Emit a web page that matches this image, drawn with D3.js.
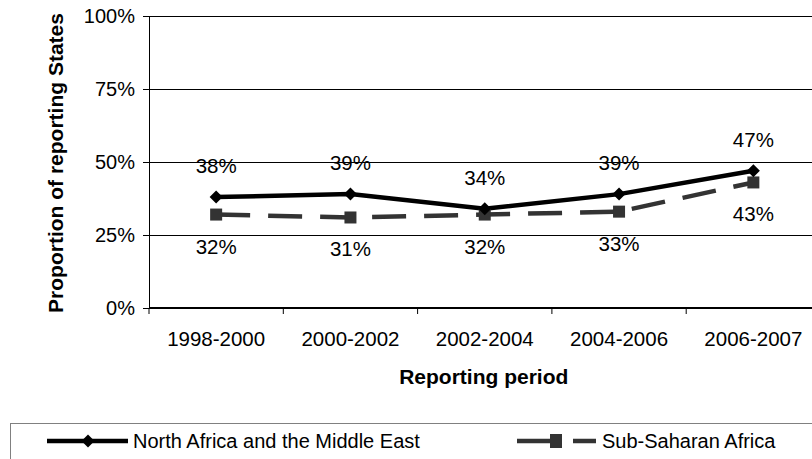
<!DOCTYPE html>
<html>
<head>
<meta charset="utf-8">
<script src="https://cdn.jsdelivr.net/npm/d3@7"></script>
<style>
  body { margin: 0; background: #fff; }
  svg { display: block; font-family: "Liberation Sans", Arial, sans-serif; }
</style>
</head>
<body>
<svg id="chart" width="812" height="459"></svg>
<script>
const categories = ["1998-2000", "2000-2002", "2002-2004", "2004-2006", "2006-2007"];
const northAfricaME = [38, 39, 34, 39, 47];
const subSaharan = [32, 31, 32, 33, 43];
const yTicks = [0, 25, 50, 75, 100];
const seriesNames = ["North Africa and the Middle East", "Sub-Saharan Africa"];

(function () {
const svg = d3.select("#chart");
const pLeft = 149, pRight = 820.5, pTop = 16, pBottom = 308;

const x = d3.scaleBand().domain(categories).range([pLeft, pRight]).padding(0);
const y = d3.scaleLinear().domain([0, 100]).range([pBottom, pTop]);
const cx = d => x(d) + x.bandwidth() / 2;

// gridlines
svg.append("g").selectAll("line").data(yTicks.filter(t => t > 0)).join("line")
  .attr("x1", pLeft).attr("x2", 812)
  .attr("y1", d => y(d)).attr("y2", d => y(d))
  .attr("stroke", "#000").attr("stroke-width", 1).attr("shape-rendering", "crispEdges");

// y axis
const yAxis = svg.append("g").attr("transform", `translate(${pLeft},0)`)
  .call(d3.axisLeft(y).tickValues(yTicks).tickFormat(d => d + "%").tickSize(6).tickPadding(8));
yAxis.select(".domain").attr("stroke", "#000").attr("d", `M0.5,${pTop}V${pBottom}`);
yAxis.selectAll("line").attr("stroke", "#000");
yAxis.selectAll("text").attr("font-size", "20px").attr("fill", "#000")
  .attr("font-family", "Liberation Sans, Arial, sans-serif");

// x axis
const xAxis = svg.append("g").attr("transform", `translate(0,${pBottom})`)
  .call(d3.axisBottom(x).tickSize(0).tickPadding(0));
xAxis.select(".domain").remove();
xAxis.selectAll("text").attr("font-size", "20.5px").attr("fill", "#000")
  .attr("font-family", "Liberation Sans, Arial, sans-serif")
  .attr("dy", null).attr("y", 38);
svg.append("line").attr("x1", pLeft).attr("x2", 812).attr("y1", pBottom).attr("y2", pBottom)
  .attr("stroke", "#000").attr("stroke-width", 2);
const xTickPos = d3.range(categories.length + 1).map(i => pLeft + i * x.step());
svg.append("g").selectAll("line").data(xTickPos.filter(p => p <= 812)).join("line")
  .attr("x1", d => d).attr("x2", d => d).attr("y1", pBottom).attr("y2", pBottom + 6)
  .attr("stroke", "#000").attr("stroke-width", 1);

// axis titles
svg.append("text").attr("x", (pLeft + pRight) / 2 - 1).attr("y", 384)
  .attr("text-anchor", "middle").attr("font-weight", "bold").attr("font-size", "21px")
  .text("Reporting period");
svg.append("text").attr("transform", "translate(63,163) rotate(-90)")
  .attr("text-anchor", "middle").attr("font-weight", "bold").attr("font-size", "21px")
  .text("Proportion of reporting States");

// lines
const line = d3.line().x((d, i) => cx(categories[i])).y(d => y(d));
svg.append("path").datum(subSaharan).attr("d", line)
  .attr("fill", "none").attr("stroke", "#333").attr("stroke-width", 4.5)
  .attr("stroke-dasharray", "34,18");
svg.append("path").datum(northAfricaME).attr("d", line)
  .attr("fill", "none").attr("stroke", "#000").attr("stroke-width", 4.5);

// markers
const diamond = (s) => `M0,${-s}L${s},0L0,${s}L${-s},0Z`;
svg.append("g").selectAll("rect").data(subSaharan).join("rect")
  .attr("x", (d, i) => cx(categories[i]) - 6).attr("y", d => y(d) - 6)
  .attr("width", 12).attr("height", 12).attr("fill", "#333");
svg.append("g").selectAll("path").data(northAfricaME).join("path")
  .attr("transform", (d, i) => `translate(${cx(categories[i])},${y(d)})`)
  .attr("d", diamond(6.5)).attr("fill", "#000");

// data labels
svg.append("g").selectAll("text").data(northAfricaME).join("text")
  .attr("x", (d, i) => cx(categories[i])).attr("y", d => y(d) - 24)
  .attr("text-anchor", "middle").attr("font-size", "20.5px").text(d => d + "%");
svg.append("g").selectAll("text").data(subSaharan).join("text")
  .attr("x", (d, i) => cx(categories[i])).attr("y", d => y(d) + 39)
  .attr("text-anchor", "middle").attr("font-size", "20.5px").text(d => d + "%");

// legend
svg.append("rect").attr("x", 10.5).attr("y", 423.5).attr("width", 820).attr("height", 60)
  .attr("fill", "none").attr("stroke", "#808080").attr("stroke-width", 1);
const lg = svg.append("g");
lg.append("line").attr("x1", 47).attr("x2", 128).attr("y1", 441).attr("y2", 441)
  .attr("stroke", "#000").attr("stroke-width", 4.5);
lg.append("path").attr("transform", "translate(88,441)").attr("d", diamond(6.5)).attr("fill", "#000");
lg.append("text").attr("x", 133).attr("y", 448).attr("font-size", "20px").text(seriesNames[0]);
lg.append("line").attr("x1", 517).attr("x2", 596).attr("y1", 441).attr("y2", 441)
  .attr("stroke", "#333").attr("stroke-width", 4.5).attr("stroke-dasharray", "34,22,23,100");
lg.append("rect").attr("x", 550).attr("y", 434).attr("width", 12).attr("height", 14).attr("fill", "#333");
lg.append("text").attr("x", 602).attr("y", 448).attr("font-size", "20px").text(seriesNames[1]);
})();
</script>
</body>
</html>
